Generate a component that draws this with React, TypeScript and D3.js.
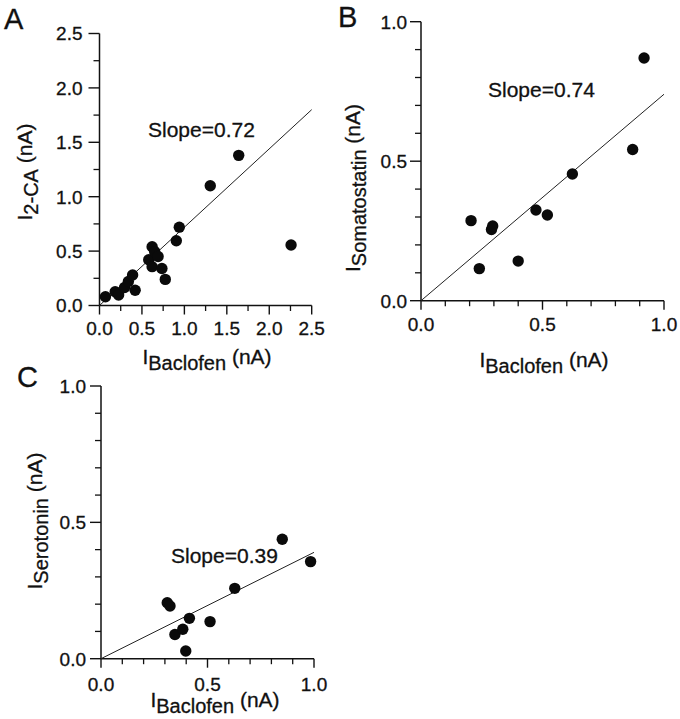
import React from "react";
import * as d3 from "d3";

const FONT = "'Liberation Sans', Arial, Helvetica, sans-serif";

// Panel A
const aBaclofen = [0.07, 0.185, 0.225, 0.295, 0.34, 0.39, 0.42, 0.58, 0.62, 0.65, 0.62, 0.69, 0.735, 0.775, 0.905, 0.94, 1.305, 1.64, 2.257];
const a2CA = [0.08, 0.127, 0.097, 0.165, 0.22, 0.28, 0.14, 0.42, 0.54, 0.495, 0.357, 0.45, 0.34, 0.24, 0.595, 0.72, 1.1, 1.38, 0.556];
// Panel B
const bBaclofen = [0.206, 0.24, 0.29, 0.295, 0.4, 0.473, 0.52, 0.623, 0.871, 0.918];
const bSomatostatin = [0.287, 0.115, 0.255, 0.268, 0.142, 0.325, 0.307, 0.454, 0.542, 0.87];
// Panel C
const cBaclofen = [0.311, 0.324, 0.347, 0.384, 0.398, 0.415, 0.512, 0.628, 0.851, 0.984];
const cSerotonin = [0.205, 0.193, 0.089, 0.108, 0.028, 0.148, 0.136, 0.258, 0.438, 0.356];

const slopes = [0.72, 0.74, 0.39];
const panelLetters = ["A", "B", "C"];
const ySub = ["2-CA", "Somatostatin", "Serotonin"];
const xSub = "Baclofen";
const unit = " (nA)";

type PanelProps = {
  letter: string;
  letterPos: [number, number];
  xr: [number, number];
  yr: [number, number];
  max: number;
  majorStep: number;
  minorStep: number;
  xs: number[];
  ys: number[];
  slope: number;
  lineMax: number;
  slopePos: [number, number];
  yTickGap: number;
  xTickBaseline: number;
  xLabelPos: [number, number];
  yLabelPos: [number, number];
  ySubText: string;
};

const textStyle = { stroke: "#111", strokeWidth: 0.3 };

function Panel(p: PanelProps) {
  const x = d3.scaleLinear().domain([0, p.max]).range(p.xr);
  const y = d3.scaleLinear().domain([0, p.max]).range(p.yr);
  const major = d3.range(0, p.max + 1e-9, p.majorStep);
  const minor = d3.range(0, p.max + 1e-9, p.minorStep).filter(
    (v) => Math.abs(v / p.majorStep - Math.round(v / p.majorStep)) > 1e-6
  );
  const fmt = d3.format(".1f");
  const line = d3.line<number>().x((v) => x(v)).y((v) => y(v * p.slope));
  const tickFont = 19;
  const labFont = 21;
  const subFont = 20;
  return (
    <g fill="#111">
      <text x={p.letterPos[0]} y={p.letterPos[1]} fontSize={29} fontFamily={FONT} style={textStyle}>
        {p.letter}
      </text>
      {/* axes */}
      <line x1={x(0)} x2={x(p.max)} y1={y(0)} y2={y(0)} stroke="#111" strokeWidth={1.5} />
      <line x1={x(0)} x2={x(0)} y1={y(0)} y2={y(p.max)} stroke="#111" strokeWidth={1.5} />
      {major.map((v) => (
        <g key={"xm" + v}>
          <line x1={x(v)} x2={x(v)} y1={y(0)} y2={y(0) + 9} stroke="#111" strokeWidth={1.4} />
          <text x={x(v)} y={p.xTickBaseline} fontSize={tickFont} fontFamily={FONT} textAnchor="middle" style={textStyle}>
            {fmt(v)}
          </text>
        </g>
      ))}
      {minor.map((v) => (
        <line key={"xn" + v} x1={x(v)} x2={x(v)} y1={y(0)} y2={y(0) + 5.5} stroke="#111" strokeWidth={1.3} />
      ))}
      {major.map((v) => (
        <g key={"ym" + v}>
          <line x1={x(0) - 11} x2={x(0)} y1={y(v)} y2={y(v)} stroke="#111" strokeWidth={1.4} />
          <text x={x(0) - p.yTickGap} y={y(v)} dy="0.36em" fontSize={tickFont} fontFamily={FONT} textAnchor="end" style={textStyle}>
            {fmt(v)}
          </text>
        </g>
      ))}
      {minor.map((v) => (
        <line key={"yn" + v} x1={x(0) - 6} x2={x(0)} y1={y(v)} y2={y(v)} stroke="#111" strokeWidth={1.3} />
      ))}
      {/* fit line */}
      <path d={line([0, p.lineMax]) || ""} fill="none" stroke="#222" strokeWidth={1} />
      {/* points */}
      {p.xs.map((v, i) => (
        <circle key={"p" + i} cx={x(v)} cy={y(p.ys[i])} r={5.7} fill="#0a0a0a" />
      ))}
      <text x={p.slopePos[0]} y={p.slopePos[1]} fontSize={21} fontFamily={FONT} style={textStyle}>
        {"Slope=" + p.slope.toFixed(2)}
      </text>
      {/* x label */}
      <text x={p.xLabelPos[0]} y={p.xLabelPos[1]} fontSize={labFont} fontFamily={FONT} textAnchor="middle" style={textStyle}>
        I
        <tspan fontSize={subFont} dy={6}>
          {xSub}
        </tspan>
        <tspan dy={-6}>{unit}</tspan>
      </text>
      {/* y label */}
      <text
        transform={`translate(${p.yLabelPos[0]},${p.yLabelPos[1]}) rotate(-90)`}
        fontSize={labFont}
        fontFamily={FONT}
        textAnchor="middle"
        style={textStyle}
      >
        I
        <tspan fontSize={subFont} dy={6}>
          {p.ySubText}
        </tspan>
        <tspan dy={-6}>{unit}</tspan>
      </text>
    </g>
  );
}

export default function App() {
  return (
    <svg
      width={680}
      height={719}
      style={{ position: "absolute", left: 0, top: 0, background: "#fff" }}
    >
      <Panel
        letter={panelLetters[0]}
        letterPos={[4, 29]}
        xr={[99.5, 311.7]}
        yr={[305.5, 33.5]}
        max={2.5}
        majorStep={0.5}
        minorStep={0.25}
        xs={aBaclofen}
        ys={a2CA}
        slope={slopes[0]}
        lineMax={2.5}
        slopePos={[148, 137]}
        yTickGap={17}
        xTickBaseline={335}
        xLabelPos={[207, 364]}
        yLabelPos={[32, 172]}
        ySubText={ySub[0]}
      />
      <Panel
        letter={panelLetters[1]}
        letterPos={[338, 27]}
        xr={[421, 664]}
        yr={[300.7, 21.7]}
        max={1}
        majorStep={0.5}
        minorStep={0.1}
        xs={bBaclofen}
        ys={bSomatostatin}
        slope={slopes[1]}
        lineMax={1}
        slopePos={[488, 96.7]}
        yTickGap={14}
        xTickBaseline={331}
        xLabelPos={[544, 367]}
        yLabelPos={[360, 188]}
        ySubText={ySub[1]}
      />
      <Panel
        letter={panelLetters[2]}
        letterPos={[17, 387]}
        xr={[101, 314]}
        yr={[658.7, 386]}
        max={1}
        majorStep={0.5}
        minorStep={0.1}
        xs={cBaclofen}
        ys={cSerotonin}
        slope={slopes[2]}
        lineMax={1}
        slopePos={[171, 562.7]}
        yTickGap={15}
        xTickBaseline={691}
        xLabelPos={[215, 706.7]}
        yLabelPos={[42, 521]}
        ySubText={ySub[2]}
      />
    </svg>
  );
}
